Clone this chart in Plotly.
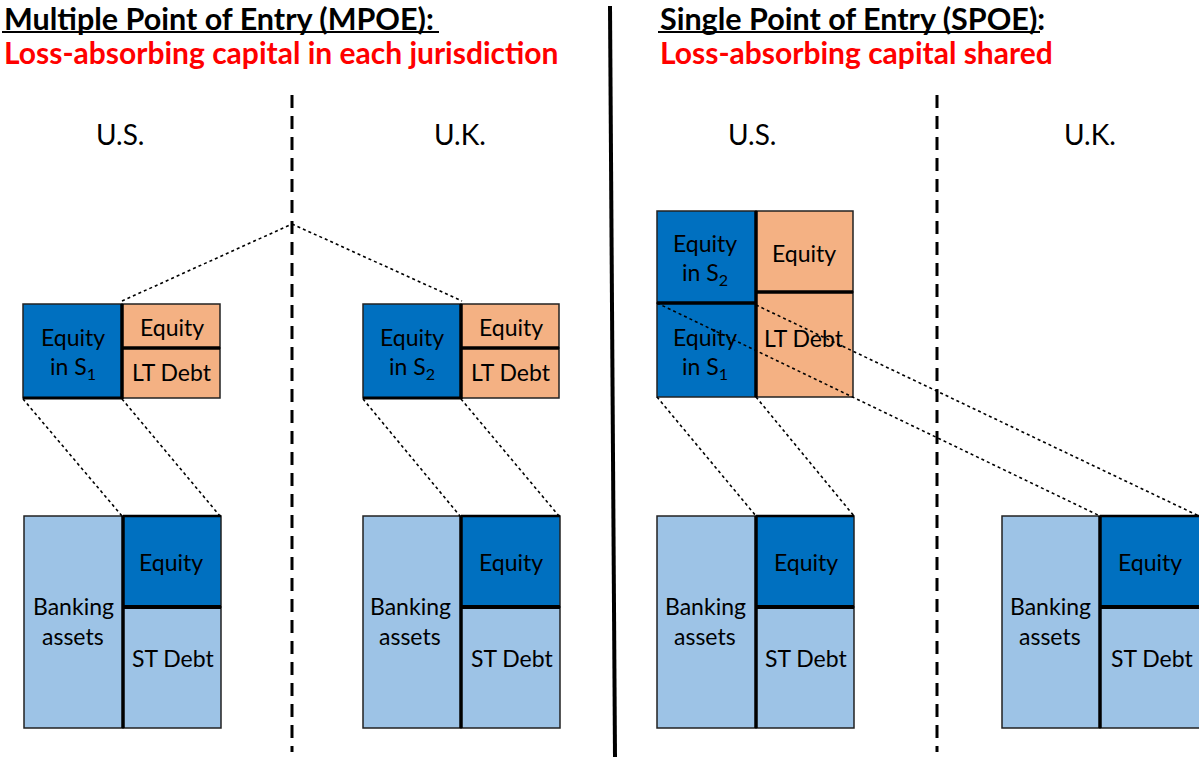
import plotly.graph_objects as go

W, H = 1199, 757
FONT = "Lato"

# Colours
DARK_BLUE = "#0070C0"
LIGHT_BLUE = "#9DC3E6"
ORANGE = "#F4B183"

# Section titles
titles = ["Multiple Point of Entry (MPOE):", "Single Point of Entry (SPOE):"]
subtitles = ["Loss-absorbing capital in each jurisdiction", "Loss-absorbing capital shared"]
title_x = [2, 658]
title_end = [439, 1040]

# Jurisdiction labels
juris_labels = ["U.S.", "U.K.", "U.S.", "U.K."]
juris_x = [120, 460, 752, 1090]

# Holding-company balance sheets (MPOE): left asset, right split equity / LT debt
mpoe_hold_left = [23, 363]
mpoe_hold_mid = [122, 461]
mpoe_hold_right = [220, 559]
mpoe_hold_top = 304
mpoe_hold_split = 348
mpoe_hold_bottom = 398
mpoe_hold_sub = ["in S<sub>1</sub>", "in S<sub>2</sub>"]

# Bank subsidiaries
bank_left = [24, 363, 657, 1002]
bank_mid = [123, 461, 756, 1100]
bank_right = [221, 560, 854, 1215]
bank_top = 516
bank_split = 607
bank_bottom = 728

# SPOE holding company
spoe_left, spoe_mid, spoe_right = 657, 756, 853
spoe_top, spoe_asset_split, spoe_liab_split, spoe_bottom = 211, 303, 292, 397

shapes = []

def rect(x0, y0, x1, y1, fill, lw=1.5, col="#222"):
    shapes.append(dict(type="rect", x0=x0, y0=y0, x1=x1, y1=y1, xref="x", yref="y",
                       fillcolor=fill, line=dict(color=col, width=lw), layer="below"))

def line(x0, y0, x1, y1, w=3, dash="solid", col="black", layer="above"):
    shapes.append(dict(type="line", x0=x0, y0=y0, x1=x1, y1=y1, xref="x", yref="y",
                       line=dict(color=col, width=w, dash=dash), layer=layer))

# MPOE holding companies
for i in range(2):
    l, m, r = mpoe_hold_left[i], mpoe_hold_mid[i], mpoe_hold_right[i]
    rect(l, mpoe_hold_top, m, mpoe_hold_bottom, DARK_BLUE)
    rect(m, mpoe_hold_top, r, mpoe_hold_split, ORANGE)
    rect(m, mpoe_hold_split, r, mpoe_hold_bottom, ORANGE)

# SPOE holding company
rect(spoe_left, spoe_top, spoe_mid, spoe_asset_split, DARK_BLUE)
rect(spoe_left, spoe_asset_split, spoe_mid, spoe_bottom, DARK_BLUE)
rect(spoe_mid, spoe_top, spoe_right, spoe_liab_split, ORANGE)
rect(spoe_mid, spoe_liab_split, spoe_right, spoe_bottom, ORANGE)

# Bank balance sheets
for i in range(4):
    l, m, r = bank_left[i], bank_mid[i], bank_right[i]
    rect(l, bank_top, m, bank_bottom, LIGHT_BLUE)
    rect(m, bank_top, r, bank_split, DARK_BLUE)
    rect(m, bank_split, r, bank_bottom, LIGHT_BLUE)

# Thick dividers
for i in range(2):
    l, m, r = mpoe_hold_left[i], mpoe_hold_mid[i], mpoe_hold_right[i]
    line(m, mpoe_hold_top, m, mpoe_hold_bottom + 1, w=3.5)
    line(m, mpoe_hold_split, r, mpoe_hold_split, w=3.5)
    line(l, mpoe_hold_bottom, m, mpoe_hold_bottom, w=3)
for i in range(4):
    l, m, r = bank_left[i], bank_mid[i], bank_right[i]
    line(m, bank_top, m, bank_bottom, w=3.5)
    line(m, bank_split, r, bank_split, w=4)
    line(m, bank_top, r, bank_top, w=2.5)
line(spoe_mid, spoe_top, spoe_mid, spoe_bottom, w=3.5)
line(spoe_left, spoe_asset_split, spoe_mid, spoe_asset_split, w=3.5)
line(spoe_mid, spoe_liab_split, spoe_right, spoe_liab_split, w=3.5)

# Jurisdiction separators
line(292, 95, 292, 752, w=3, dash="13px,8px")
line(937, 95, 937, 752, w=3, dash="13px,8px")
line(610, 6, 615, 757, w=4)

# Dotted ownership links
DOT = "dot"
line(122, 301, 292, 224, w=1.6, dash=DOT)
line(292, 224, 462, 301, w=1.6, dash=DOT)
for i in range(2):
    line(mpoe_hold_left[i], mpoe_hold_bottom + 1, bank_mid[i] - 1, bank_top, w=1.6, dash=DOT)
    line(mpoe_hold_mid[i], mpoe_hold_bottom + 1, bank_right[i] - 1, bank_top, w=1.6, dash=DOT)
line(spoe_left, spoe_bottom, bank_mid[2], bank_top, w=1.6, dash=DOT)
line(spoe_mid, spoe_bottom, bank_right[2], bank_top, w=1.6, dash=DOT)
line(spoe_left, spoe_asset_split, bank_mid[3], bank_top, w=1.6, dash=DOT)
line(spoe_mid, spoe_asset_split + 2, 1199, bank_top, w=1.6, dash=DOT)

# Title underlines
for i in range(2):
    line(title_x[i], 32, title_end[i], 32, w=2)

annotations = []

def txt(x, y, s, size=23, color="black", bold=False, anchor="center"):
    annotations.append(dict(x=x, y=y, xref="x", yref="y", text=f"<b>{s}</b>" if bold else s,
                            showarrow=False, xanchor=anchor, yanchor="middle",
                            font=dict(family=FONT, size=size, color=color)))

for i in range(2):
    txt(title_x[i], 18, titles[i], size=30.5, bold=True, anchor="left")
    txt(title_x[i], 52, subtitles[i], size=30, color="#FF0000", bold=True, anchor="left")

for x, s in zip(juris_x, juris_labels):
    txt(x, 134, s, size=28)

LS = 15  # half line spacing for two-line labels

for i in range(2):
    l, m, r = mpoe_hold_left[i], mpoe_hold_mid[i], mpoe_hold_right[i]
    txt((l + m) / 2, 352 - LS, "Equity")
    txt((l + m) / 2, 352 + LS, mpoe_hold_sub[i])
    txt((m + r) / 2 + 1, 327, "Equity")
    txt((m + r) / 2 + 1, 372, "LT Debt")

txt(705, 258 - LS, "Equity")
txt(705, 258 + LS, "in S<sub>2</sub>")
txt(705, 352 - LS, "Equity")
txt(705, 352 + LS, "in S<sub>1</sub>")
txt(804, 253, "Equity")
txt(804, 338, "LT Debt")

bank_text_x = [(73, 171, 173), (410, 511, 512), (705, 806, 806), (1050, 1150, 1152)]
for bx, ex, sx in bank_text_x:
    txt(bx, 621 - LS, "Banking")
    txt(bx, 621 + LS, "assets")
    txt(ex, 562, "Equity")
    txt(sx, 658, "ST Debt")

fig = go.Figure()
fig.update_layout(
    width=W, height=H,
    margin=dict(l=0, r=0, t=0, b=0),
    paper_bgcolor="white", plot_bgcolor="white",
    xaxis=dict(range=[0, W], visible=False, fixedrange=True),
    yaxis=dict(range=[H, 0], visible=False, fixedrange=True),
    shapes=shapes, annotations=annotations, showlegend=False,
)
fig.write_html("out.html", config={"displayModeBar": False},
               post_script="document.body.style.margin='0';")
